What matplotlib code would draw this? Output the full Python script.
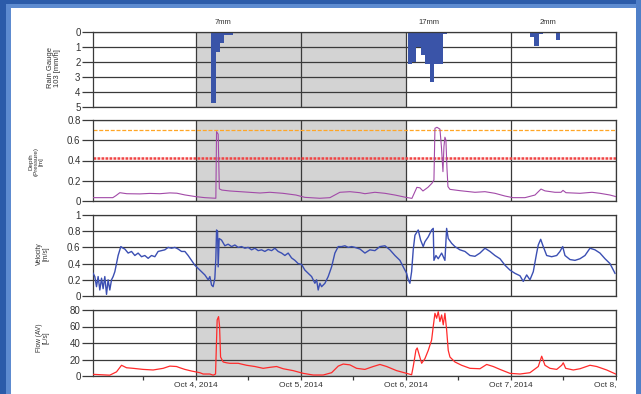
import matplotlib
matplotlib.use("Agg")
import matplotlib.pyplot as plt
import matplotlib.dates as mdates
from matplotlib.patches import Rectangle
from datetime import datetime, timedelta

plt.rcParams["font.family"] = ["Liberation Sans", "DejaVu Sans"]

START = datetime(2014, 10, 3)

# rain gauge, hourly bins (hours after Oct 3 00:00), mm/h
rain_hours = [27.5, 28.5, 29.5, 30.5, 31.5,
              72.4, 73.4, 74.4, 75.4, 76.4, 77.4, 78.4, 79.4, 80.4,
              100.3, 101.3, 102.3, 106.3]
rain_vals = [4.75, 1.35, 0.75, 0.18, 0.18,
             2.1, 2.0, 1.0, 1.5, 2.1, 3.35, 2.1, 2.1, 0.1,
             0.3, 0.93, 0.15, 0.53]
event_labels = ["7mm", "17mm", "2mm"]
event_hours = [30.3, 77.2, 104.4]

# depth (pressure) [m]
depth_hours = [0.46, 5.03, 5.71, 6.63, 8.23, 11.2, 13.49, 15.77, 18.06, 19.66,
               21.49, 24.0, 26.06, 28.57, 28.73, 29.1, 29.37, 29.94, 31.77, 35.2,
               38.63, 40.91, 43.89, 46.86, 48.91, 52.34, 54.63, 56.91, 59.2, 61.49,
               62.63, 64.91, 67.2, 69.49, 72.0, 73.37, 73.83, 74.51, 75.2, 75.89,
               77.03, 77.94, 78.4, 78.63, 79.09, 79.77, 80.11, 80.46, 80.69, 80.91,
               81.14, 81.37, 81.6, 82.06, 84.34, 87.77, 90.06, 92.34, 94.63, 96.46,
               99.2, 101.49, 102.86, 103.77, 106.06, 107.43, 107.89, 108.57, 111.77, 114.51,
               116.34, 118.63, 120.0]
depth_vals = [0.033, 0.033, 0.052, 0.082, 0.072, 0.07, 0.075, 0.072, 0.08, 0.077,
              0.06, 0.043, 0.033, 0.027, 0.685, 0.66, 0.12, 0.108, 0.099, 0.089,
              0.079, 0.086, 0.076, 0.059, 0.036, 0.027, 0.033, 0.086, 0.092, 0.082,
              0.072, 0.086, 0.076, 0.059, 0.036, 0.026, 0.07, 0.135, 0.13, 0.099,
              0.135, 0.175, 0.207, 0.718, 0.728, 0.71, 0.536, 0.29, 0.54, 0.63,
              0.6, 0.33, 0.142, 0.115, 0.102, 0.086, 0.092, 0.076, 0.049, 0.033,
              0.033, 0.059, 0.118, 0.1, 0.086, 0.086, 0.105, 0.082, 0.076, 0.086,
              0.076, 0.059, 0.043]
depth_alarm = 0.7
depth_warn = 0.425

# velocity [m/s]
vel_hours = [0.53, 0.91, 1.30, 1.67, 2.06, 2.45, 2.81, 3.2, 3.59, 3.95,
             4.34, 4.73, 5.1, 5.49, 5.87, 6.24, 6.86, 7.38, 7.77, 8.53,
             9.3, 10.06, 10.81, 11.59, 12.34, 13.1, 13.87, 14.63, 15.38, 16.16,
             16.91, 17.67, 18.45, 19.2, 19.95, 20.73, 21.49, 22.24, 23.02, 23.77,
             24.53, 25.3, 26.06, 26.82, 27.2, 27.59, 27.95, 28.34, 28.57, 28.73,
             28.96, 29.1, 29.33, 29.87, 30.63, 31.38, 32.16, 32.91, 33.67, 34.45,
             35.2, 35.95, 36.73, 37.49, 38.24, 39.02, 39.77, 40.53, 41.3, 42.06,
             42.81, 43.59, 44.34, 45.1, 45.87, 46.63, 47.38, 48.16, 48.91, 49.67,
             50.45, 51.2, 51.59, 51.95, 52.34, 52.73, 53.49, 54.24, 55.02, 55.77,
             56.53, 57.3, 58.06, 58.81, 59.6, 60.34, 61.49, 62.63, 63.77, 64.91,
             66.06, 67.2, 68.34, 69.49, 70.63, 71.38, 72.16, 72.53, 72.91, 73.3,
             73.67, 74.06, 74.81, 75.36, 75.95, 76.34, 77.1, 77.87, 78.24, 78.4,
             78.86, 79.38, 80.16, 80.91, 81.3, 81.67, 82.45, 83.2, 84.34, 85.49,
             86.63, 87.77, 88.91, 90.06, 91.2, 92.34, 93.49, 94.63, 95.77, 96.91,
             98.06, 98.81, 99.59, 100.34, 101.1, 101.87, 102.24, 102.79, 103.38, 104.16,
             105.3, 106.45, 107.2, 107.82, 108.34, 109.49, 110.63, 111.77, 112.91, 114.06,
             115.2, 116.34, 117.49, 118.63, 119.77]
vel_vals = [0.28, 0.24, 0.115, 0.24, 0.074, 0.22, 0.09, 0.24, 0.02, 0.2,
            0.074, 0.2, 0.24, 0.3, 0.4, 0.5, 0.61, 0.59, 0.58, 0.53,
            0.55, 0.5, 0.53, 0.485, 0.5, 0.465, 0.5, 0.485, 0.55, 0.56,
            0.57, 0.6, 0.59, 0.6, 0.58, 0.55, 0.55, 0.5, 0.44, 0.38,
            0.34, 0.3, 0.26, 0.2, 0.24, 0.135, 0.115, 0.22, 0.465, 0.815,
            0.8, 0.36, 0.71, 0.69, 0.62, 0.64, 0.61, 0.63, 0.6, 0.61,
            0.59, 0.6, 0.57, 0.59, 0.56, 0.57, 0.55, 0.575, 0.56, 0.59,
            0.55, 0.53, 0.5, 0.53, 0.47, 0.44, 0.4, 0.39, 0.32, 0.28,
            0.24, 0.157, 0.2, 0.074, 0.157, 0.115, 0.157, 0.24, 0.36, 0.53,
            0.61, 0.61, 0.62, 0.6, 0.61, 0.6, 0.58, 0.53, 0.57, 0.56,
            0.61, 0.62, 0.57, 0.5, 0.44, 0.36, 0.28, 0.2, 0.157, 0.3,
            0.57, 0.75, 0.815, 0.69, 0.61, 0.67, 0.73, 0.815, 0.835, 0.44,
            0.5, 0.46, 0.53, 0.44, 0.835, 0.71, 0.65, 0.61, 0.57, 0.55,
            0.5, 0.49, 0.53, 0.59, 0.55, 0.5, 0.46, 0.38, 0.32, 0.28,
            0.25, 0.18, 0.26, 0.2, 0.3, 0.53, 0.63, 0.7, 0.61, 0.5,
            0.485, 0.5, 0.55, 0.61, 0.5, 0.45, 0.44, 0.46, 0.5, 0.59,
            0.57, 0.53, 0.46, 0.4, 0.28]

# flow (AV) [L/s]
flow_hours = [0.53, 4.34, 5.87, 7.02, 8.16, 9.67, 11.95, 14.24, 16.53, 18.06,
              19.59, 20.34, 21.49, 23.02, 24.0, 24.91, 25.67, 27.2, 27.95, 28.5,
              28.87, 29.19, 29.42, 29.65, 30.24, 31.02, 31.77, 33.67, 35.59, 37.49,
              39.38, 40.91, 42.45, 43.95, 46.24, 48.53, 50.81, 53.1, 55.02, 56.53,
              57.67, 59.2, 60.73, 62.63, 64.53, 66.06, 67.59, 69.87, 72.16, 73.3,
              73.67, 74.29, 74.58, 75.04, 75.59, 76.34, 77.1, 77.87, 78.24, 78.63,
              79.02, 79.38, 79.77, 80.16, 80.53, 80.91, 81.3, 81.67, 82.06, 83.2,
              84.73, 86.63, 88.91, 90.45, 91.95, 93.49, 95.77, 98.06, 100.34, 102.24,
              103.02, 103.77, 104.91, 106.45, 107.59, 107.95, 108.5, 110.24, 111.77, 114.06,
              115.59, 117.87, 119.93]
flow_vals = [2, 1, 5, 13, 10, 9.3, 8, 7.3, 9.3, 12,
             11.5, 10, 8, 6, 5, 4, 2.4, 2.4, 1, 2.4,
             68, 72, 60, 23, 17, 16, 15.4, 15.4, 13, 11.5,
             9.3, 10.5, 11.5, 8.8, 6.5, 3.2, 1.2, 1.2, 4, 12,
             14.5, 13.5, 9.3, 8, 11.5, 14, 11.5, 6.5, 3.2, 1.5,
             11.5, 31.5, 34, 25.5, 15.4, 21, 31, 43.6, 60, 76,
             70, 78, 66, 74, 62, 76, 56, 31, 23, 17,
             13, 9.3, 8.8, 14, 11.5, 8, 3.2, 2.4, 4, 11.5,
             24, 13, 9.3, 8, 13, 16, 9.3, 7.3, 8.8, 13,
             11.5, 7.3, 2.4]

shade_hours = [24, 72]
x_range_hours = [0.5, 120]


def to_num(hours):
    return mdates.date2num([START + timedelta(hours=h) for h in hours])


W, H = 641, 394
fig = plt.figure(figsize=(W / 100, H / 100), dpi=100, facecolor="#2b5ba9")


def fig_rect(x0, y0, x1, y1, color, z):
    fig.add_artist(Rectangle((x0 / W, 1 - y1 / H), (x1 - x0) / W, (y1 - y0) / H,
                             transform=fig.transFigure, facecolor=color,
                             edgecolor="none", zorder=z))


# window frame
fig_rect(6, 4, 641, 394, "#5d8bd0", -20)
fig_rect(11, 8, 636, 394, "white", -19)

GRID = "#3a3a3a"
TXT = "#333333"
left, right = 93, 616
panels = [(32, 107), (120, 201), (215, 296), (310, 376)]
axes = []
for top, bot in panels:
    ax = fig.add_axes([left / W, 1 - bot / H, (right - left) / W, (bot - top) / H],
                      sharex=axes[0] if axes else None)
    axes.append(ax)

s0, s1 = to_num(shade_hours)
for ax in axes:
    ax.set_facecolor("white")
    ax.axvspan(s0, s1, color="#d3d3d3", lw=0, zorder=0)
    ax.grid(True, which="major", color=GRID, lw=0.9)
    ax.set_axisbelow(True)
    for sp in ax.spines.values():
        sp.set_color(GRID)
        sp.set_linewidth(0.9)
    ax.tick_params(axis="y", length=8, width=0.9, color=GRID, pad=1,
                   labelsize=7, labelcolor=TXT)
    ax.tick_params(axis="x", which="both", bottom=False, labelbottom=False)

# rain gauge
ax = axes[0]
ax.bar(to_num(rain_hours), rain_vals, width=1 / 24, align="edge",
       color="#3a54a8", lw=0, zorder=2)
ax.set_ylim(5, 0)
ax.set_yticks(range(6))
for lab, h in zip(event_labels, event_hours):
    ax.annotate(lab, xy=(to_num([h])[0], 1), xycoords=("data", "axes fraction"),
                xytext=(0, 6.5), textcoords="offset points", ha="center",
                va="center", fontsize=5.5, color=TXT)

# depth
ax = axes[1]
ax.axhline(depth_alarm, color="#ffa626", lw=0.9, ls=(0, (3.2, 1.4)), zorder=2)
ax.axhline(depth_warn, color="#f04444", lw=1.8, ls=(0, (1.1, 0.5)), zorder=2)
ax.plot(to_num(depth_hours), depth_vals, color="#a24aa8", lw=0.8, zorder=3)
ax.set_ylim(0, 0.8)
ax.set_yticks([0, 0.2, 0.4, 0.6, 0.8])
ax.set_yticklabels(["0", "0.2", "0.4", "0.6", "0.8"])

# velocity
ax = axes[2]
ax.plot(to_num(vel_hours), vel_vals, color="#3b4fb3", lw=1.0, zorder=3)
ax.set_ylim(0, 1)
ax.set_yticks([0, 0.2, 0.4, 0.6, 0.8, 1])
ax.set_yticklabels(["0", "0.2", "0.4", "0.6", "0.8", "1"])

# flow
ax = axes[3]
ax.plot(to_num(flow_hours), flow_vals, color="#ff2a2a", lw=0.9, zorder=3)
ax.set_ylim(0, 80)
ax.set_yticks([0, 20, 40, 60, 80])
ax.xaxis.set_major_locator(mdates.DayLocator())
ax.xaxis.set_minor_locator(mdates.HourLocator(byhour=[12]))
ax.xaxis.set_major_formatter(mdates.DateFormatter("%b %-d, %Y"))
ax.tick_params(axis="x", which="both", bottom=True, labelbottom=True, length=3,
               width=0.9, color=GRID, labelsize=6, labelcolor=TXT, pad=0.8)
ax.set_xlim(*to_num(x_range_hours))

# axis titles
fig.text(54 / W, 1 - 68 / H, "Rain Gauge\n103 [mm/h]", rotation=90, ha="center",
         va="center", fontsize=5.5, color=TXT, linespacing=1.0)
fig.text(36 / W, 1 - 162 / H, "Depth\n(Pressure)\n[m]", rotation=90, ha="center",
         va="center", fontsize=4.5, color=TXT, linespacing=1.0)
fig.text(43 / W, 1 - 254 / H, "Velocity\n[m/s]", rotation=90, ha="center",
         va="center", fontsize=4.8, color=TXT, linespacing=1.0)
fig.text(43 / W, 1 - 338 / H, "Flow (AV)\n[L/s]", rotation=90, ha="center",
         va="center", fontsize=4.8, color=TXT, linespacing=1.0)

# last date label is cut at the plot edge, right frame strip on top
fig_rect(617, 377, 636, 394, "white", 10)
fig_rect(636, 0, 641, 394, "#4f7fc8", 11)

fig.savefig("out.png", dpi=100, facecolor=fig.get_facecolor())
